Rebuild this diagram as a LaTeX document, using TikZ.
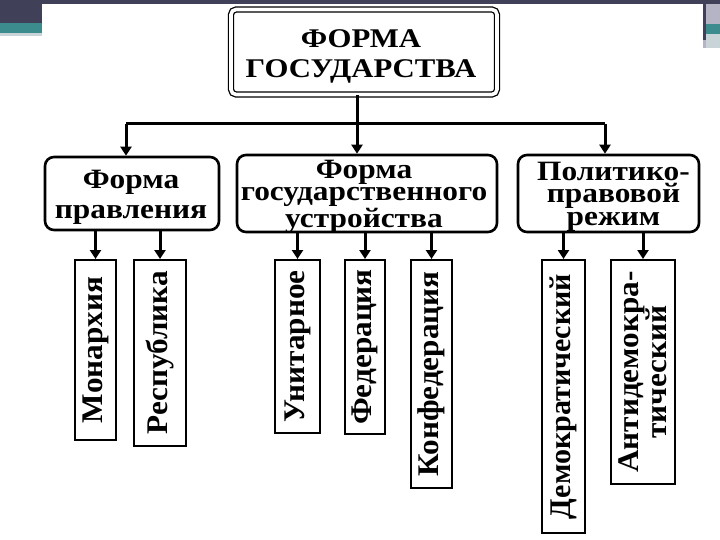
\documentclass[tikz,border=0pt]{standalone}
\usepackage{fontspec}
\setmainfont{Liberation Serif}
\newfontfamily\titlefont[FakeStretch=1.14]{Liberation Serif}
\newfontfamily\midfont[FakeStretch=1.12]{Liberation Serif}
\newfontfamily\leaffont[FakeStretch=1.04]{Liberation Serif}
\usetikzlibrary{arrows.meta,calc}
\definecolor{slidedark}{HTML}{404058}
\definecolor{slideteal}{HTML}{3C8C8E}
\definecolor{slidegray}{HTML}{B4B4C4}
\definecolor{slidelight}{HTML}{C8D4D8}
\begin{document}
\begin{tikzpicture}[x=1pt,y=-1pt,
  titlebox/.style={draw, line width=1.3pt, double=white, double distance=3.6pt,
    rounded corners=5pt, inner sep=0pt,
    minimum width=266pt, minimum height=85pt},
  titletext/.style={inner sep=0pt, align=center,
    font=\titlefont\bfseries\fontsize{27}{30}\selectfont},
  midbox/.style={draw, line width=2.6pt, rounded corners=9pt, inner sep=0pt},
  midtext/.style={inner sep=0pt, align=center,
    font=\midfont\bfseries\fontsize{28}{22.5}\selectfont},
  leaf/.style={draw, line width=2pt, inner sep=0pt, rotate=90, align=center,
    font=\leaffont\bfseries\fontsize{30}{20}\selectfont},
  conn/.style={line width=3pt},
  arr/.style={line width=3pt, -{Triangle[width=11pt,length=9pt]}}]
\useasboundingbox (0,0) rectangle (720,540);
\fill[white] (0,0) rectangle (720,540);
% slide decoration
\fill[slidedark] (0,0) rectangle (720,4);
\fill[slidedark] (0,0) rectangle (42,23);
\fill[slideteal] (0,23) rectangle (42,33);
\fill[slidelight] (0,33) rectangle (42,36);
\fill[slidegray] (703,0) rectangle (720,48);
\fill[slidedark] (703,0) rectangle (706,40);
\fill[slidedark] (706,0) rectangle (720,4);
\fill[slideteal] (706,24) rectangle (720,34);
\fill[slidelight] (706,34) rectangle (720,48);

% top
\node[titlebox] (top) at (364,52) {};
\node[titletext] (toptext) at (361,56) {ФОРМА\\ГОСУДАРСТВА};

% middle row
\node[midbox, minimum width=174pt, minimum height=73pt] (b1) at (132,193.5) {};
\node[midtext, font=\midfont\bfseries\fontsize{28}{30}\selectfont] (t1)
  at ($(b1.center)+(-1,4)$) {Форма\\правления};
\node[midbox, minimum width=260pt, minimum height=77pt] (b2) at (367,193.5) {};
\node[midtext] (t2) at ($(b2.center)+(-3,3)$) {Форма\\государственного\\устройства};
\node[midbox, minimum width=181pt, minimum height=77pt] (b3) at (608.5,193.5) {};
\node[midtext] (t3) at ($(b3.center)+(5,3)$) {Политико-\\правовой\\режим};

% leaves (rotated: minimum width = vertical extent)
\node[leaf, minimum width=180pt, minimum height=41pt] (mon) at (95.5,350) {Монархия};
\node[leaf, minimum width=186pt, minimum height=52pt] (resp) at (160,353) {Республика};
\node[leaf, minimum width=173pt, minimum height=45pt] (unit) at (297.5,346.5) {Унитарное};
\node[leaf, minimum width=174pt, minimum height=40pt] (fed) at (365,347) {Федерация};
\node[leaf, minimum width=228pt, minimum height=41pt] (konf) at (431.5,374) {Конфедерация};
\node[leaf, minimum width=273pt, minimum height=43pt,
  font=\bfseries\fontsize{30}{20}\selectfont] (dem) at (563.5,396.5) {Демократический};
\node[leaf, minimum width=224pt, minimum height=64pt] (anti) at (643,372) {Антидемокра-\\тический};

% connectors
\coordinate (bus) at (357,124);
\coordinate (a1) at (126,124);
\coordinate (a3) at (605,124);
\draw[conn] (bus |- top.south) -- (bus);
\draw[conn] (a1) -- (a3);
\draw[arr] (a1) -- (a1 |- b1.north);
\draw[arr] (bus) -- (bus |- b2.north);
\draw[arr] (a3) -- (a3 |- b3.north);

\foreach \p/\c in {b1/mon, b1/resp, b2/unit, b2/fed, b2/konf, b3/dem, b3/anti}
  \draw[arr] (\c.east |- \p.south) -- (\c.east);
\end{tikzpicture}
\end{document}
